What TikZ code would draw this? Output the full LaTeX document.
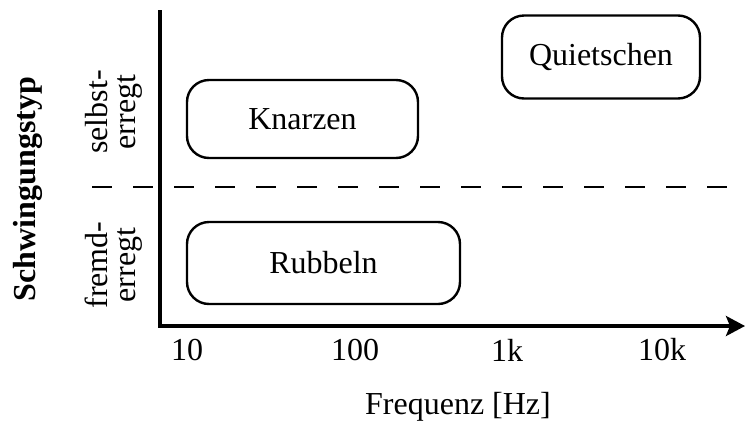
\documentclass[tikz,border=0pt]{standalone}
\usepackage{fontspec}
\setmainfont{Liberation Serif}
\usetikzlibrary{arrows.meta}
\begin{document}
\begin{tikzpicture}[x=1pt,y=-1pt,
  region/.style={draw,line width=2.4pt,rounded corners=22pt,inner sep=0pt,font=\fontsize{32}{35}\selectfont},
  lbl/.style={font=\fontsize{32}{35}\selectfont,inner sep=0pt},
  axis/.style={line width=3.4pt}]
\useasboundingbox (0,0) rectangle (745,424);
\coordinate (top) at (160,10);
\coordinate (orig) at (160,326);
\coordinate (xend) at (745,326);
\coordinate (dl) at (92,187);
\coordinate (dr) at (745,187);
\draw[line width=2pt,dash pattern=on 20pt off 21pt] (dl) -- (dr);
\draw[axis] (top) -- ([yshift=-1.7pt]orig);
\draw[axis,-{Stealth[length=19pt,width=20pt,inset=4pt]}] ([xshift=-1.7pt]orig) -- (xend);
\node[region,minimum width=231pt,minimum height=78pt] (knarzen) at (302.5,119) {Knarzen};
\node[region,minimum width=273pt,minimum height=82pt] (rubbeln) at (323.5,263) {Rubbeln};
\node[region,minimum width=198pt,minimum height=83pt] (quiet) at (601,57) {Quietschen};
\node[lbl] (t10) at (187,350) {10};
\node[lbl] (t100) at (355,350) {100};
\node[lbl] (t1k) at (507,350) {1k};
\node[lbl] (t10k) at (662,350) {10k};
\node[lbl] (xlab) at (458,407) {Frequenz [Hz]};
\node[lbl,font=\fontsize{32}{35}\selectfont\bfseries,rotate=90] (ylab) at (28,189) {Schwingungstyp};
\node[lbl,rotate=90,align=center,font=\fontsize{32}{28}\selectfont] (selbst) at (114,112) {selbst-\\erregt};
\node[lbl,rotate=90,align=center,font=\fontsize{32}{28}\selectfont] (fremd) at (114,265) {fremd-\\erregt};
\end{tikzpicture}
\end{document}
